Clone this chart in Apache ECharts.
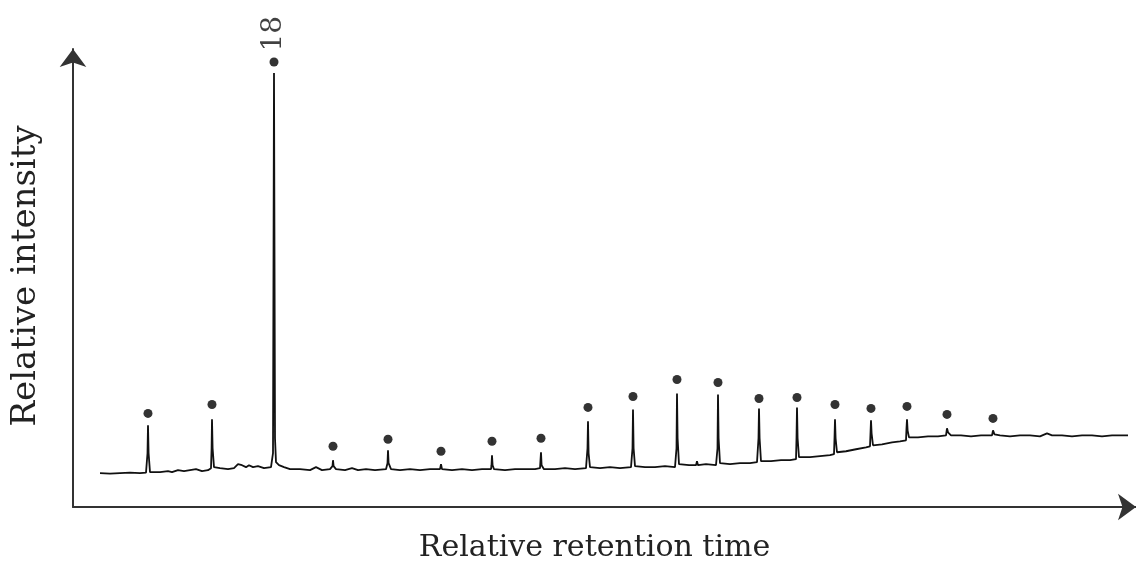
<!DOCTYPE html>
<html>
<head>
<meta charset="utf-8">
<title>Chromatogram</title>
<script src="https://cdn.jsdelivr.net/npm/echarts@6/dist/echarts.min.js"></script>
<style>
  html, body { margin: 0; padding: 0; background: #fff; }
  #chart { width: 1136px; height: 568px; }
</style>
</head>
<body>
<div id="chart"></div>
<script>
// Detector trace: relative retention time vs. relative intensity
const traceTime = [
  2.7, 3.7, 4.7, 5.7, 6.7, 7.3, 7.45, 7.5, 7.56, 7.7,
  8.7, 9.5, 9.9, 10.5, 11.1, 11.7, 12.3, 12.9, 13.5, 13.8,
  13.86, 13.9, 13.96, 14.1, 14.7, 15.5, 16.1, 16.5, 16.9, 17.3,
  17.6, 18.0, 18.5, 19.1, 19.8, 20.0, 20.1, 20.2, 20.3, 20.6,
  21.1, 21.7, 22.7, 23.7, 24.3, 24.9, 25.7, 25.95, 26.0, 26.06,
  26.3, 27.2, 27.9, 28.5, 29.3, 30.2, 31.3, 31.45, 31.5, 31.56,
  31.8, 32.7, 33.7, 34.7, 35.7, 36.7, 36.8, 36.9, 37.9, 38.9,
  39.9, 40.9, 41.8, 41.85, 41.9, 41.96, 42.1, 43.2, 44.2, 45.2,
  46.2, 46.7, 46.8, 46.86, 47.1, 48.2, 49.2, 50.2, 51.3, 51.45,
  51.5, 51.56, 51.7, 52.7, 53.7, 54.7, 55.8, 55.95, 56.0, 56.06,
  56.2, 57.2, 58.2, 59.2, 60.2, 60.35, 60.4, 60.46, 60.6, 61.6,
  62.3, 62.4, 62.5, 63.3, 64.3, 64.45, 64.5, 64.56, 64.7, 65.7,
  66.7, 67.7, 68.4, 68.55, 68.6, 68.66, 68.8, 69.8, 70.8, 71.7,
  72.3, 72.35, 72.4, 72.46, 72.6, 73.7, 74.7, 75.7, 76.1, 76.15,
  76.2, 76.26, 76.4, 77.3, 78.3, 79.3, 79.7, 79.75, 79.8, 79.86,
  80.0, 80.9, 81.9, 82.7, 83.3, 83.35, 83.4, 83.46, 83.6, 84.5,
  85.5, 86.5, 87.3, 87.4, 87.5, 87.8, 88.8, 89.8, 90.8, 91.9,
  92.0, 92.15, 92.7, 93.7, 94.7, 95.7, 96.7, 97.4, 97.9, 98.9,
  99.9, 100.9, 101.9, 102.9, 103.9, 104.9, 105.5
];
const traceIntensity = [
  6.8, 6.7, 6.8, 6.9, 6.8, 6.9, 10.8, 16.4, 10.8, 7.0,
  7.0, 7.2, 7.0, 7.4, 7.2, 7.4, 7.6, 7.2, 7.4, 7.8,
  11.8, 17.6, 11.8, 8.0, 7.8, 7.6, 7.8, 8.6, 8.4, 8.0,
  8.4, 8.0, 8.2, 7.8, 8.0, 10.8, 87.2, 13.8, 9.0, 8.4,
  8.0, 7.6, 7.6, 7.4, 8.0, 7.4, 7.6, 8.2, 9.4, 8.2,
  7.6, 7.4, 7.8, 7.4, 7.6, 7.4, 7.6, 8.8, 11.4, 8.8,
  7.6, 7.4, 7.6, 7.4, 7.6, 7.6, 8.6, 7.6, 7.4, 7.6,
  7.4, 7.6, 7.6, 8.4, 10.4, 8.4, 7.6, 7.4, 7.6, 7.6,
  7.6, 7.8, 11.0, 8.4, 7.6, 7.6, 7.8, 7.6, 7.8, 11.8,
  17.2, 10.8, 8.0, 7.8, 8.0, 7.8, 8.0, 11.8, 19.6, 11.8,
  8.2, 8.0, 8.0, 8.2, 8.0, 11.8, 22.8, 13.8, 8.6, 8.4,
  8.4, 9.2, 8.4, 8.6, 8.4, 11.8, 22.6, 13.8, 8.8, 8.6,
  8.8, 8.8, 9.0, 13.8, 19.8, 13.8, 9.2, 9.2, 9.4, 9.4,
  9.6, 13.8, 20.0, 13.8, 10.0, 10.0, 10.2, 10.4, 10.6, 13.8,
  17.6, 13.8, 11.0, 11.2, 11.6, 12.0, 12.2, 14.8, 17.4, 14.8,
  12.4, 12.6, 13.0, 13.2, 13.4, 15.8, 17.6, 15.4, 14.0, 14.0,
  14.2, 14.2, 14.4, 15.8, 15.0, 14.4, 14.4, 14.2, 14.4, 14.4,
  15.4, 14.6, 14.4, 14.2, 14.4, 14.4, 14.2, 14.8, 14.4, 14.4,
  14.2, 14.4, 14.4, 14.2, 14.4, 14.4, 14.4
];

// Marked peaks: retention time, marker height and annotation
const peakTime = [7.5, 13.9, 20.1, 26.0, 31.5, 36.8, 41.9, 46.8, 51.5, 56.0,
                  60.4, 64.5, 68.6, 72.4, 76.2, 79.8, 83.4, 87.4, 92.0];
const markerHeight = [18.8, 20.6, 89.4, 12.2, 13.6, 11.2, 13.2, 13.8, 20.0, 22.2,
                      25.6, 25.0, 21.8, 22.0, 20.6, 19.8, 20.2, 18.6, 17.8];
const peakLabels = ['', '', '18', '', '', '', '', '', '', '',
                    '', '', '', '', '', '', '', '', ''];

const xTitle = 'Relative retention time';
const yTitle = 'Relative intensity';

const serif = 'DejaVu Serif';

const traceData = traceTime.map((t, i) => [t, traceIntensity[i]]);
const markerData = peakTime.map((t, i) => ({
  value: [t, markerHeight[i]],
  label: { show: peakLabels[i] !== '', formatter: peakLabels[i] }
}));

const axisLine = {
  show: true,
  symbol: ['none', 'arrow'],
  symbolSize: [20, 18],
  lineStyle: { color: '#333', width: 2 }
};

const chart = echarts.init(document.getElementById('chart'), null, { renderer: 'canvas' });
chart.setOption({
  animation: false,
  backgroundColor: '#fff',
  grid: { left: 73, right: 0, top: 49, bottom: 59, containLabel: false },
  xAxis: {
    type: 'value', min: 0, max: 106.3,
    axisLine: axisLine,
    axisTick: { show: false }, axisLabel: { show: false }, splitLine: { show: false },
    name: xTitle, nameLocation: 'middle', nameGap: 26,
    nameTextStyle: { fontFamily: serif, fontSize: 30, color: '#222', padding: [0, 20, 0, 0] }
  },
  yAxis: {
    type: 'value', min: 0, max: 92,
    axisLine: axisLine,
    axisTick: { show: false }, axisLabel: { show: false }, splitLine: { show: false },
    name: yTitle, nameLocation: 'middle', nameGap: 30,
    nameTextStyle: { fontFamily: serif, fontSize: 34, color: '#222', padding: [0, 0, 0, 4] }
  },
  series: [
    {
      type: 'line',
      data: traceData,
      showSymbol: false,
      symbol: 'none',
      lineStyle: { color: '#111', width: 1.8 },
      z: 2
    },
    {
      type: 'scatter',
      data: markerData,
      symbolSize: 9,
      itemStyle: { color: '#000' },
      label: {
        position: 'top',
        distance: 6,
        rotate: 90,
        align: 'left',
        verticalAlign: 'middle',
        fontFamily: serif,
        fontSize: 28,
        color: '#111'
      },
      z: 3
    }
  ]
});
</script>
</body>
</html>
